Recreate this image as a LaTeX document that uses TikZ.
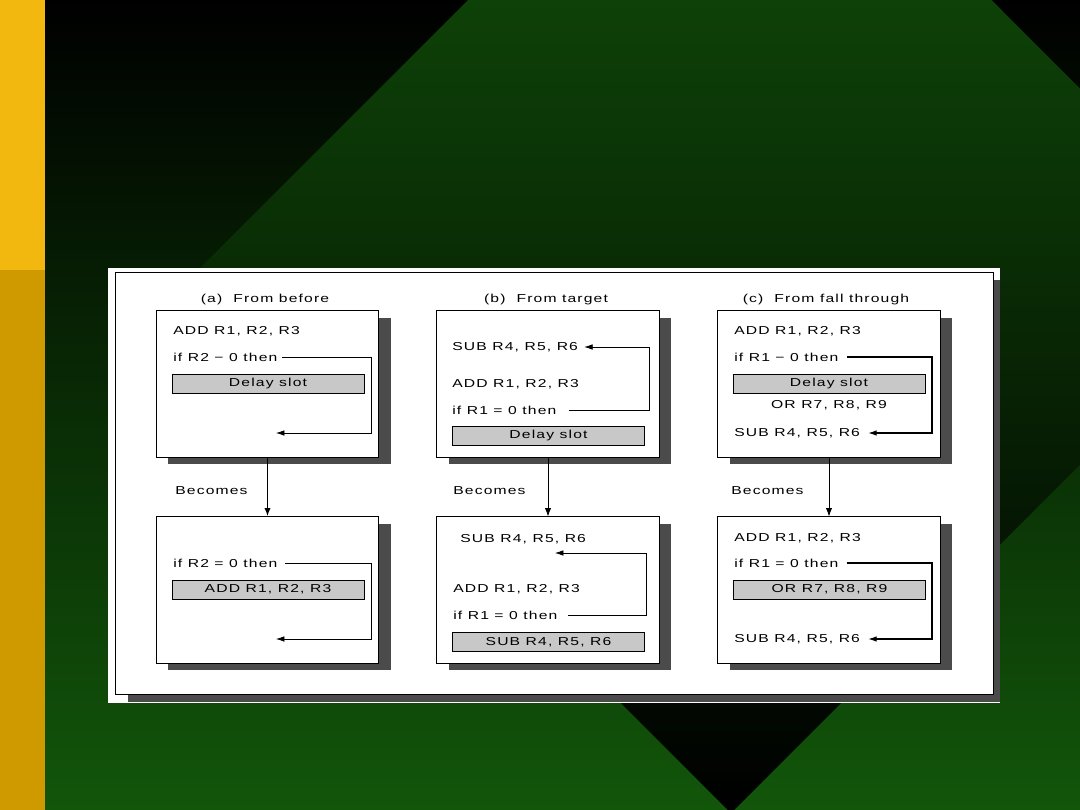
\documentclass[tikz,border=0pt]{standalone}
\usepackage{fontspec}
\usetikzlibrary{arrows.meta,shadows}
\newfontfamily\figfont[FakeStretch=1.36,LetterSpace=10]{Liberation Sans}
\newcommand\figtext{\figfont\fontsize{8.2}{10}\selectfont}

\definecolor{barlight}{RGB}{242,184,15}
\definecolor{bardark}{RGB}{206,154,0}
\definecolor{leafgreen}{RGB}{18,86,10}
\definecolor{slotgray}{RGB}{200,200,200}
\definecolor{shadowgray}{RGB}{75,75,75}

\tikzset{
  code/.style={font=\figtext, inner sep=0pt, anchor=west},
  caption/.style={font=\figtext, inner sep=0pt},
  block/.style={draw=black, fill=white, line width=0.7pt, inner sep=0pt,
    minimum width=5.55cm, minimum height=3.65cm,
    drop shadow={shadow xshift=0.3cm, shadow yshift=-0.18cm, fill=shadowgray, opacity=1}},
  slot/.style={draw=black, fill=slotgray, line width=0.6pt, inner sep=0pt,
    minimum width=4.8cm, minimum height=0.475cm, font=\figtext},
  jump/.style={line width=0.5pt, -{Latex[length=6pt,width=4pt]}},
  becomes/.style={-{Latex[length=6pt,width=4.5pt]}}
}

\begin{document}
\begin{tikzpicture}[x=0.025cm, y=-0.025cm]
    \path[use as bounding box] (0,0) rectangle (1080,810);
    % Background
    \begin{scope}
      \clip (0,0) rectangle (1080,810);
      \shade[top color=black, bottom color=leafgreen] (0,0) rectangle (1080,810);
      \shade[top color=leafgreen, bottom color=black]
        (730,-262) -- (1268,277) -- (731,813) -- (193,275) -- cycle;
      \fill[barlight] (0,0) rectangle (45,270);
      \fill[bardark] (0,270) rectangle (45,810);
    \end{scope}

    % Panel
    \fill[white] (108,268) rectangle (1000,703);
    \fill[shadowgray] (128,280) rectangle (1000,702);
    \draw[fill=white, line width=0.7pt] (115,272) rectangle (993,694);

    % Titles
    \node[caption] (tita) at (265,300) {(a)\ \ From before};
    \node[caption] (titb) at (546,300) {(b)\ \ From target};
    \node[caption] (titc) at (826,300) {(c)\ \ From fall through};

    % Blocks
    \node[block] (atop) at (267.5,384) {};
    \node[block] (abot) at (267.5,590) {};
    \node[block] (btop) at (548,384) {};
    \node[block] (bbot) at (548,590) {};
    \node[block] (ctop) at (829,384) {};
    \node[block] (cbot) at (829,590) {};

    % Becomes
    \draw[becomes, line width=1.4pt] (atop) -- (abot);
    \draw[becomes, line width=0.6pt] (btop) -- (bbot);
    \draw[becomes, line width=0.6pt] (ctop) -- (cbot);
    \node[code] (beca) at (175,491) {Becomes};
    \node[code] (becb) at (453,491) {Becomes};
    \node[code] (becc) at (731,491) {Becomes};

    % (a) from before
    \node[code] (adda) at (173,331) {ADD R1, R2, R3};
    \node[code] (ifa) at (173,357) {if R2 − 0 then};
    \node[slot] (slota) at (268,383.5) {Delay slot};
    \coordinate (aret) at (276,433);
    \coordinate (aturn) at (371,433);
    \draw[jump] ([xshift=0.12cm]ifa.east) -| (aturn) -- (aret);

    \node[code] (ifaa) at (173,563) {if R2 = 0 then};
    \node[slot] (slotaa) at (268,589.5) {ADD R1, R2, R3};
    \coordinate (aaret) at (276,639);
    \coordinate (aaturn) at (371,639);
    \draw[jump] ([xshift=0.18cm]ifaa.east) -| (aaturn) -- (aaret);

    % (b) from target
    \node[code] (subb) at (452,347) {SUB R4, R5, R6};
    \node[code] (addb) at (452,384) {ADD R1, R2, R3};
    \node[code] (ifb) at (452,410) {if R1 = 0 then};
    \node[slot] (slotb) at (548.5,435.5) {Delay slot};
    \coordinate (bturn) at (649,347);
    \draw[jump] ([xshift=0.3cm]ifb.east) -| (bturn) -- ([xshift=0.15cm]subb.east);

    \node[code] (subbb) at (460,539) {SUB R4, R5, R6};
    \node[code] (addbb) at (453,589) {ADD R1, R2, R3};
    \node[code] (ifbb) at (453,615) {if R1 = 0 then};
    \node[slot] (slotbb) at (548.5,642) {SUB R4, R5, R6};
    \coordinate (bbret) at (555,553);
    \coordinate (bbturn) at (646,553);
    \draw[jump] ([xshift=0.27cm]ifbb.east) -| (bbturn) -- (bbret);

    % (c) from fall through
    \node[code] (addc) at (734,331) {ADD R1, R2, R3};
    \node[code] (ifc) at (734,357) {if R1 − 0 then};
    \node[slot] (slotc) at (829,383.5) {Delay slot};
    \node[code, anchor=center] (orc) at (829,405) {OR R7, R8, R9};
    \node[code] (subc) at (734,433) {SUB R4, R5, R6};
    \coordinate (cturn) at (932,433);
    \draw[jump, line width=0.8pt] ([xshift=0.2cm]ifc.east) -| (cturn) -- ([xshift=0.2cm]subc.east);

    \node[code] (addcc) at (734,538) {ADD R1, R2, R3};
    \node[code] (ifcc) at (734,563) {if R1 = 0 then};
    \node[slot] (slotcc) at (829.5,589.5) {OR R7, R8, R9};
    \node[code] (subcc) at (734,639) {SUB R4, R5, R6};
    \coordinate (ccturn) at (932,639);
    \draw[jump, line width=0.8pt] ([xshift=0.2cm]ifcc.east) -| (ccturn) -- ([xshift=0.2cm]subcc.east);
  \end{tikzpicture}
\end{document}
